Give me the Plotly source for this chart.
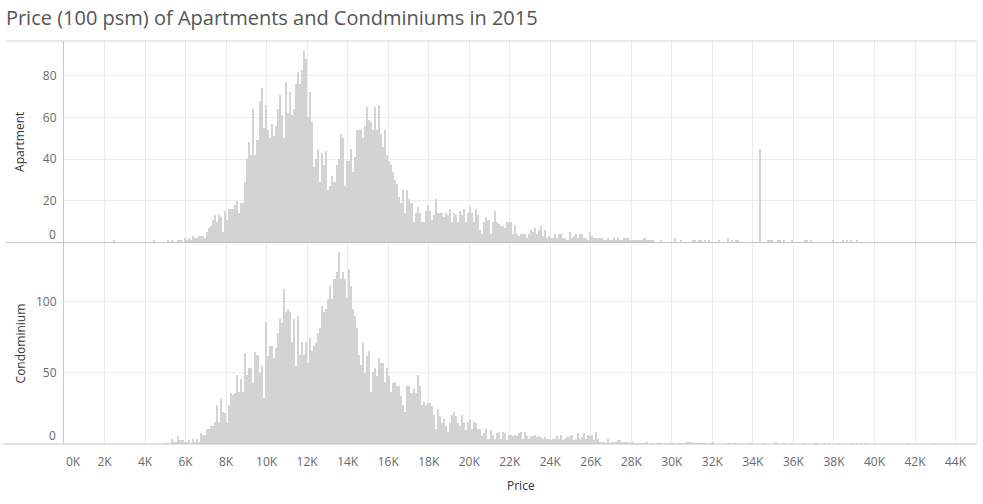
import plotly.graph_objects as go
from plotly.subplots import make_subplots

BIN_WIDTH = 100

# Apartment counts per 100-psm price bin, starting at bin 2,000
apartment_first_bin = 2000
apartment_counts = [
    0, 0, 0, 0, 1, 0, 0, 0, 0, 0,
    0, 0, 0, 0, 0, 0, 0, 0, 0, 0,
    0, 0, 0, 0, 1, 0, 0, 0, 0, 0,
    0, 1, 0, 1, 0, 0, 1, 1, 0, 2,
    1, 2, 1, 3, 2, 2, 3, 3, 3, 2,
    5, 7, 8, 11, 13, 10, 13, 12, 5, 15,
    11, 16, 16, 16, 18, 20, 14, 19, 19, 29,
    40, 48, 42, 64, 42, 49, 68, 74, 55, 66,
    54, 50, 57, 51, 56, 64, 71, 61, 50, 77,
    62, 72, 61, 64, 76, 82, 76, 83, 92, 88,
    60, 72, 58, 36, 40, 45, 29, 43, 37, 44,
    25, 27, 32, 29, 37, 40, 52, 50, 27, 39,
    39, 45, 34, 41, 54, 54, 54, 50, 56, 65,
    59, 58, 54, 65, 54, 66, 52, 46, 54, 42,
    39, 37, 34, 30, 28, 22, 19, 25, 14, 25,
    21, 19, 10, 14, 17, 14, 10, 10, 15, 18,
    15, 11, 13, 21, 14, 14, 14, 12, 14, 13,
    16, 10, 14, 13, 10, 15, 13, 16, 10, 14,
    17, 14, 10, 16, 13, 6, 4, 10, 12, 11,
    4, 10, 15, 10, 9, 8, 8, 7, 10, 10,
    10, 4, 8, 4, 3, 4, 4, 4, 2, 4,
    6, 5, 7, 4, 6, 8, 3, 6, 2, 3,
    2, 2, 4, 2, 4, 4, 2, 2, 1, 5,
    2, 3, 4, 2, 4, 4, 2, 2, 1, 5,
    3, 2, 2, 2, 2, 2, 1, 1, 2, 1,
    1, 2, 1, 2, 1, 1, 2, 2, 2, 1,
    1, 1, 1, 1, 1, 1, 2, 1, 1, 1,
    1, 0, 0, 0, 1, 0, 0, 0, 0, 0,
    0, 2, 0, 0, 1, 0, 0, 0, 0, 0,
    1, 1, 0, 1, 1, 0, 1, 0, 1, 0,
    0, 0, 0, 1, 0, 0, 0, 2, 0, 1,
    0, 1, 1, 0, 0, 0, 0, 0, 0, 0,
    0, 0, 0, 45, 0, 0, 0, 1, 1, 1,
    0, 0, 1, 1, 0, 1, 0, 0, 0, 1,
    0, 0, 0, 0, 0, 1, 1, 0, 1, 0,
    0, 0, 0, 0, 0, 0, 0, 0, 0, 1,
    0, 0, 0, 0, 1, 0, 1, 0, 1, 0,
    0, 1,
]

# Condominium counts per 100-psm price bin, starting at bin 4,000
condo_first_bin = 4000
condo_counts = [
    0, 0, 0, 0, 0, 0, 0, 0, 0, 1,
    1, 1, 0, 4, 2, 2, 6, 3, 3, 2,
    2, 3, 1, 4, 2, 4, 2, 8, 7, 7,
    11, 11, 13, 13, 16, 28, 16, 32, 23, 22,
    15, 28, 36, 35, 36, 49, 37, 46, 37, 64,
    49, 54, 54, 43, 65, 63, 50, 55, 33, 86,
    62, 69, 69, 61, 68, 78, 88, 85, 109, 93,
    95, 93, 72, 88, 55, 90, 63, 72, 63, 72,
    57, 75, 66, 69, 71, 78, 82, 97, 93, 95,
    102, 111, 102, 116, 121, 135, 116, 121, 116, 103,
    123, 111, 95, 90, 82, 63, 56, 71, 50, 62,
    66, 37, 51, 54, 48, 61, 57, 57, 44, 54,
    48, 37, 43, 44, 41, 41, 34, 28, 23, 41,
    41, 36, 39, 36, 49, 41, 28, 30, 28, 29,
    29, 27, 21, 11, 25, 20, 15, 18, 13, 9,
    15, 21, 23, 20, 15, 13, 21, 15, 10, 16,
    18, 11, 16, 15, 11, 11, 6, 8, 11, 4,
    10, 7, 4, 8, 9, 4, 9, 8, 3, 7,
    7, 6, 7, 6, 8, 9, 4, 9, 6, 4,
    6, 6, 7, 5, 6, 5, 4, 5, 4, 4,
    3, 4, 4, 6, 4, 7, 3, 4, 5, 6,
    7, 3, 4, 8, 4, 5, 8, 4, 7, 6,
    7, 3, 9, 4, 2, 2, 2, 1, 4, 1,
    2, 2, 2, 3, 3, 2, 2, 2, 2, 1,
    2, 1, 1, 1, 1, 1, 1, 2, 0, 1,
    1, 0, 1, 1, 1, 0, 1, 0, 1, 1,
    1, 1, 0, 1, 1, 0, 1, 2, 2, 2,
    1, 1, 1, 1, 1, 1, 1, 0, 1, 1,
    2, 0, 0, 0, 0, 0, 0, 1, 1, 0,
    1, 1, 0, 1, 0, 0, 0, 1, 1, 1,
    0, 0, 0, 0, 0, 1, 0, 0, 0, 0,
    1, 2, 0, 0, 0, 1, 0, 0, 0, 1,
    0, 0, 0, 0, 1, 0, 0, 0, 0, 0,
    1, 1, 0, 0, 0, 1, 0, 1, 0, 0,
    0, 0, 1, 0, 0, 0, 0, 0, 0, 1,
    0, 1, 0, 1, 0, 1, 1, 0, 0, 0,
    0, 0, 0, 0, 0, 0, 0, 0, 0, 0,
    0, 0, 0, 0, 0, 0, 1, 0, 0, 0,
    0, 0, 0, 0, 0, 0, 0, 0, 0, 1,
]

x_tick_values = [2000, 4000, 6000, 8000, 10000, 12000, 14000, 16000, 18000, 20000, 22000,
                 24000, 26000, 28000, 30000, 32000, 34000, 36000, 38000, 40000, 42000, 44000]
x_tick_labels = ["2K", "4K", "6K", "8K", "10K", "12K", "14K", "16K", "18K", "20K", "22K",
                 "24K", "26K", "28K", "30K", "32K", "34K", "36K", "38K", "40K", "42K", "44K"]
apartment_ticks = [20, 40, 60, 80]
condo_ticks = [50, 100]

TITLE = "Price (100 psm) of Apartments and Condminiums in 2015"
BAR_COLOR = "#d3d3d3"
GRID = "#ececec"
TICK_FONT = dict(family="Open Sans", size=12, color="#6a6a6a")


def centers(first, counts):
    return [first + i * BIN_WIDTH + BIN_WIDTH / 2 for i in range(len(counts))]


fig = make_subplots(rows=2, cols=1, shared_xaxes=True, vertical_spacing=0)

fig.add_trace(go.Bar(x=centers(apartment_first_bin, apartment_counts), y=apartment_counts,
                     width=BIN_WIDTH, marker=dict(color=BAR_COLOR, line=dict(width=0)),
                     name="Apartment", showlegend=False), row=1, col=1)
fig.add_trace(go.Bar(x=centers(condo_first_bin, condo_counts), y=condo_counts,
                     width=BIN_WIDTH, marker=dict(color=BAR_COLOR, line=dict(width=0)),
                     name="Condominium", showlegend=False), row=2, col=1)

xcommon = dict(range=[0, 45060], showgrid=True, gridcolor=GRID, gridwidth=1,
               zeroline=False, tickvals=x_tick_values, ticktext=x_tick_labels,
               showline=False, tickfont=TICK_FONT)
fig.update_xaxes(**xcommon, row=1, col=1, showticklabels=False)
fig.update_xaxes(**xcommon, row=2, col=1, ticks="outside", ticklen=7,
                 tickcolor="rgba(0,0,0,0)")

ycommon = dict(showgrid=True, gridcolor=GRID, gridwidth=1, zeroline=False,
               showline=True, linecolor="#c8c8c8", linewidth=1, ticks="outside",
               ticklen=4, tickcolor="rgba(0,0,0,0)", tickfont=TICK_FONT)
fig.update_yaxes(**ycommon, range=[0, 96.7], tickvals=apartment_ticks, row=1, col=1)
fig.update_yaxes(**ycommon, range=[0, 141.5], tickvals=condo_ticks, row=2, col=1)

fig.update_layout(
    width=983, height=504,
    margin=dict(l=64, r=6, t=41, b=60),
    paper_bgcolor="white", plot_bgcolor="white",
    bargap=0, barmode="overlay",
    title=dict(text=TITLE, x=0.006, xanchor="left", y=0.965, yanchor="middle",
               font=dict(family="Open Sans", size=20, color="#555555")),
    font=dict(family="Open Sans"),
)

# edge labels kept inside the panes, as in the original
fig.add_annotation(text="0", xref="paper", yref="y", x=-0.0066, y=0, xanchor="right",
                   yanchor="bottom", yshift=-2, showarrow=False, font=TICK_FONT)
fig.add_annotation(text="0", xref="paper", yref="y2", x=-0.0066, y=0, xanchor="right",
                   yanchor="bottom", yshift=-2, showarrow=False, font=TICK_FONT)
fig.add_annotation(text="0K", xref="x2", yref="paper", x=0, y=0, xanchor="left",
                   yanchor="top", yshift=-7, showarrow=False, font=TICK_FONT)

# axis titles
AX_TITLE_FONT = dict(family="Open Sans", size=12, color="#333333")
fig.add_annotation(text="Apartment", textangle=-90, xref="paper", yref="paper",
                   x=-0.048, y=0.75, xanchor="center", yanchor="middle",
                   showarrow=False, font=AX_TITLE_FONT)
fig.add_annotation(text="Condominium", textangle=-90, xref="paper", yref="paper",
                   x=-0.048, y=0.25, xanchor="center", yanchor="middle",
                   showarrow=False, font=AX_TITLE_FONT)
fig.add_annotation(text="Price", xref="paper", yref="paper", x=0.5, y=0,
                   xanchor="center", yanchor="top", yshift=-31, showarrow=False,
                   font=AX_TITLE_FONT)

# pane rules
left = -58 / 913
fig.add_shape(type="line", xref="paper", yref="paper", x0=left, x1=1, y0=1, y1=1,
              line=dict(color="#d4d4d4", width=1))
fig.add_shape(type="line", xref="paper", yref="paper", x0=left, x1=1, y0=0.5, y1=0.5,
              line=dict(color="#c4c4c4", width=1))
fig.add_shape(type="line", xref="paper", yref="paper", x0=-61 / 913, x1=1, y0=0, y1=0,
              line=dict(color="#c4c4c4", width=1))
fig.add_shape(type="line", xref="paper", yref="paper", x0=1, x1=1, y0=0, y1=1,
              line=dict(color="#e4e4e4", width=1))

fig.write_html("out.html")
